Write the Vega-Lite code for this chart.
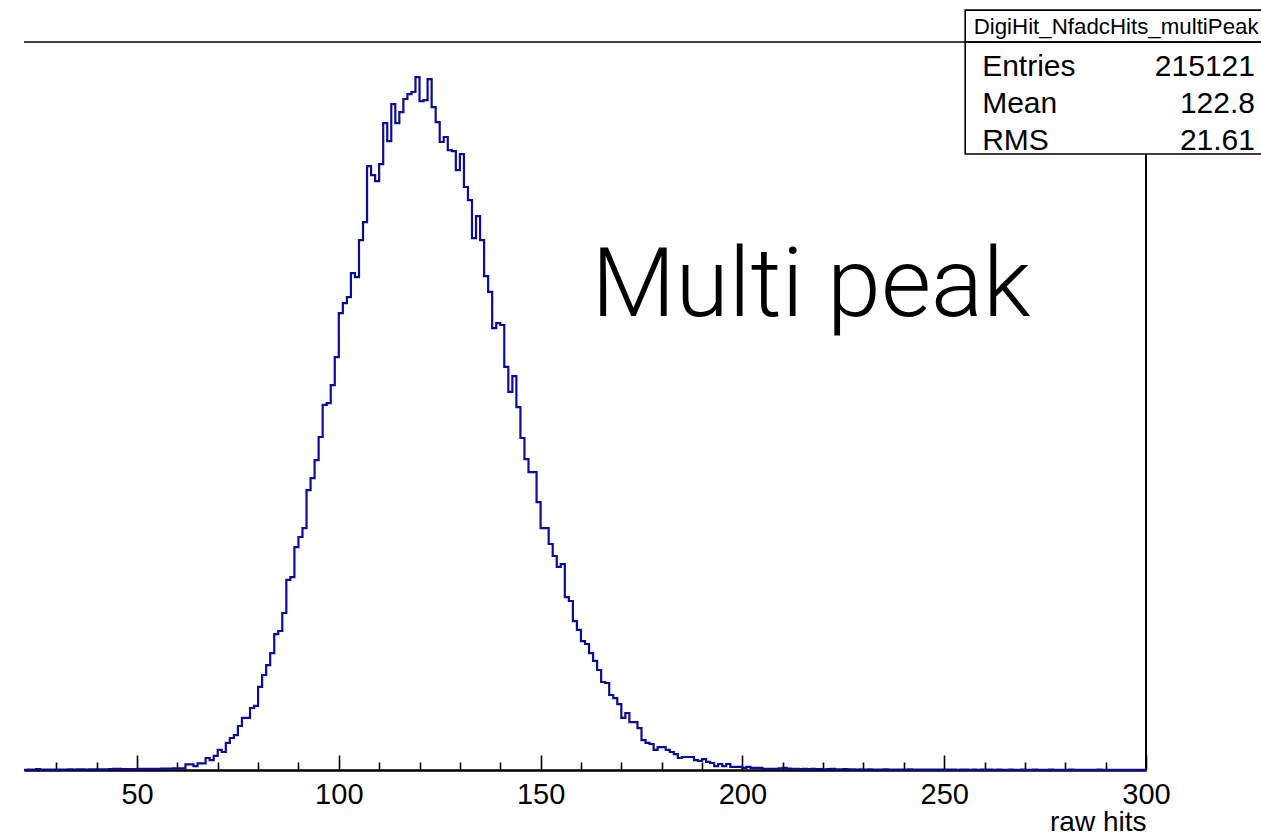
{
  "$schema": "https://vega.github.io/schema/vega-lite/v6.json",
  "width": 1122,
  "height": 728,
  "autosize": {"type": "none"},
  "padding": {"left": 24, "top": 42, "right": 115, "bottom": 65},
  "background": "white",
  "config": {
    "view": {"stroke": null},
    "axis": {"domainColor": "black", "domainWidth": 2, "tickColor": "black", "tickWidth": 1.6, "labelColor": "black", "titleColor": "black", "labelFont": "Liberation Sans", "titleFont": "Liberation Sans", "grid": false}
  },
  "datasets": {
    "one": [{}],
    "hist": [
      {"bin":22,"count":1},{"bin":23,"count":2},{"bin":24,"count":3},{"bin":25,"count":5},{"bin":26,"count":3},{"bin":27,"count":2},{"bin":28,"count":2},{"bin":29,"count":3},{"bin":30,"count":3},{"bin":31,"count":2},
      {"bin":32,"count":3},{"bin":33,"count":4},{"bin":34,"count":3},{"bin":35,"count":4},{"bin":36,"count":4},{"bin":37,"count":3},{"bin":38,"count":4},{"bin":39,"count":4},{"bin":40,"count":4},{"bin":41,"count":4},
      {"bin":42,"count":4},{"bin":43,"count":5},{"bin":44,"count":6},{"bin":45,"count":6},{"bin":46,"count":5},{"bin":47,"count":5},{"bin":48,"count":5},{"bin":49,"count":5},{"bin":50,"count":6},{"bin":51,"count":6},
      {"bin":52,"count":6},{"bin":53,"count":6},{"bin":54,"count":7},{"bin":55,"count":7},{"bin":56,"count":8},{"bin":57,"count":8},{"bin":58,"count":8},{"bin":59,"count":9},{"bin":60,"count":9},{"bin":61,"count":10},
      {"bin":62,"count":33},{"bin":63,"count":33},{"bin":64,"count":23},{"bin":65,"count":39},{"bin":66,"count":39},{"bin":67,"count":70},{"bin":68,"count":58},{"bin":69,"count":82},{"bin":70,"count":117},{"bin":71,"count":105},
      {"bin":72,"count":158},{"bin":73,"count":187},{"bin":74,"count":204},{"bin":75,"count":257},{"bin":76,"count":304},{"bin":77,"count":304},{"bin":78,"count":362},{"bin":79,"count":374},{"bin":80,"count":485},{"bin":81,"count":555},
      {"bin":82,"count":613},{"bin":83,"count":683},{"bin":84,"count":794},{"bin":85,"count":812},{"bin":86,"count":917},{"bin":87,"count":1110},{"bin":88,"count":1127},{"bin":89,"count":1302},{"bin":90,"count":1361},{"bin":91,"count":1413},
      {"bin":92,"count":1635},{"bin":93,"count":1705},{"bin":94,"count":1810},{"bin":95,"count":1945},{"bin":96,"count":2132},{"bin":97,"count":2143},{"bin":98,"count":2248},{"bin":99,"count":2412},{"bin":100,"count":2669},{"bin":101,"count":2727},
      {"bin":102,"count":2762},{"bin":103,"count":2902},{"bin":104,"count":2879},{"bin":105,"count":3095},{"bin":106,"count":3200},{"bin":107,"count":3527},{"bin":108,"count":3475},{"bin":109,"count":3440},{"bin":110,"count":3539},{"bin":111,"count":3778},
      {"bin":112,"count":3673},{"bin":113,"count":3889},{"bin":114,"count":3778},{"bin":115,"count":3843},{"bin":116,"count":3919},{"bin":117,"count":3948},{"bin":118,"count":3960},{"bin":119,"count":4047},{"bin":120,"count":3907},{"bin":121,"count":3913},
      {"bin":122,"count":4035},{"bin":123,"count":3872},{"bin":124,"count":3784},{"bin":125,"count":3668},{"bin":126,"count":3697},{"bin":127,"count":3621},{"bin":128,"count":3615},{"bin":129,"count":3504},{"bin":130,"count":3597},{"bin":131,"count":3405},
      {"bin":132,"count":3329},{"bin":133,"count":3107},{"bin":134,"count":3235},{"bin":135,"count":3095},{"bin":136,"count":2885},{"bin":137,"count":2792},{"bin":138,"count":2581},{"bin":139,"count":2610},{"bin":140,"count":2599},{"bin":141,"count":2354},
      {"bin":142,"count":2208},{"bin":143,"count":2301},{"bin":144,"count":2120},{"bin":145,"count":1939},{"bin":146,"count":1816},{"bin":147,"count":1740},{"bin":148,"count":1740},{"bin":149,"count":1565},{"bin":150,"count":1413},{"bin":151,"count":1413},
      {"bin":152,"count":1320},{"bin":153,"count":1250},{"bin":154,"count":1186},{"bin":155,"count":1203},{"bin":156,"count":1010},{"bin":157,"count":987},{"bin":158,"count":870},{"bin":159,"count":818},{"bin":160,"count":753},{"bin":161,"count":736},
      {"bin":162,"count":683},{"bin":163,"count":637},{"bin":164,"count":584},{"bin":165,"count":514},{"bin":166,"count":508},{"bin":167,"count":438},{"bin":168,"count":420},{"bin":169,"count":385},{"bin":170,"count":304},{"bin":171,"count":333},
      {"bin":172,"count":280},{"bin":173,"count":280},{"bin":174,"count":245},{"bin":175,"count":175},{"bin":176,"count":158},{"bin":177,"count":152},{"bin":178,"count":117},{"bin":179,"count":134},{"bin":180,"count":134},{"bin":181,"count":117},
      {"bin":182,"count":105},{"bin":183,"count":93},{"bin":184,"count":70},{"bin":185,"count":76},{"bin":186,"count":76},{"bin":187,"count":76},{"bin":188,"count":58},{"bin":189,"count":53},{"bin":190,"count":64},{"bin":191,"count":47},
      {"bin":192,"count":41},{"bin":193,"count":23},{"bin":194,"count":35},{"bin":195,"count":23},{"bin":196,"count":35},{"bin":197,"count":18},{"bin":198,"count":18},{"bin":199,"count":18},{"bin":200,"count":12},{"bin":201,"count":18},
      {"bin":202,"count":12},{"bin":203,"count":12},{"bin":204,"count":12},{"bin":205,"count":7},{"bin":206,"count":6},{"bin":207,"count":6},{"bin":208,"count":7},{"bin":209,"count":9},{"bin":210,"count":12},{"bin":211,"count":8},
      {"bin":212,"count":6},{"bin":213,"count":7},{"bin":214,"count":5},{"bin":215,"count":6},{"bin":216,"count":5},{"bin":217,"count":7},{"bin":218,"count":5},{"bin":219,"count":5},{"bin":220,"count":4},{"bin":221,"count":5},
      {"bin":222,"count":6},{"bin":223,"count":4},{"bin":224,"count":4},{"bin":225,"count":5},{"bin":226,"count":4},{"bin":227,"count":4},{"bin":228,"count":3},{"bin":229,"count":4},{"bin":230,"count":3},{"bin":231,"count":4},
      {"bin":232,"count":3},{"bin":233,"count":3},{"bin":234,"count":2},{"bin":235,"count":4},{"bin":236,"count":2},{"bin":237,"count":3},{"bin":238,"count":2},{"bin":239,"count":2},{"bin":240,"count":3},{"bin":241,"count":4},
      {"bin":242,"count":2},{"bin":243,"count":2},{"bin":244,"count":2},{"bin":245,"count":2},{"bin":246,"count":2},{"bin":247,"count":2},{"bin":248,"count":2},{"bin":249,"count":2},{"bin":250,"count":2},{"bin":251,"count":2},
      {"bin":252,"count":2},{"bin":253,"count":1},{"bin":254,"count":2},{"bin":255,"count":2},{"bin":256,"count":1},{"bin":257,"count":2},{"bin":258,"count":1},{"bin":259,"count":2},{"bin":260,"count":3},{"bin":261,"count":2},
      {"bin":262,"count":1},{"bin":263,"count":2},{"bin":264,"count":1},{"bin":265,"count":1},{"bin":266,"count":2},{"bin":267,"count":1},{"bin":268,"count":1},{"bin":269,"count":2},{"bin":270,"count":1},{"bin":271,"count":1},
      {"bin":272,"count":2},{"bin":273,"count":1},{"bin":274,"count":1},{"bin":275,"count":1},{"bin":276,"count":2},{"bin":277,"count":1},{"bin":278,"count":1},{"bin":279,"count":1},{"bin":280,"count":1},{"bin":281,"count":2},
      {"bin":282,"count":1},{"bin":283,"count":1},{"bin":284,"count":1},{"bin":285,"count":1},{"bin":286,"count":1},{"bin":287,"count":1},{"bin":288,"count":2},{"bin":289,"count":1},{"bin":290,"count":1},{"bin":291,"count":1},
      {"bin":292,"count":1},{"bin":293,"count":1},{"bin":294,"count":1},{"bin":295,"count":1},{"bin":296,"count":1},{"bin":297,"count":1},{"bin":298,"count":1},{"bin":299,"count":1},{"bin":300,"count":1}
    ]
  },
  "resolve": {"axis": {"x": "independent"}},
  "layer": [
    {
      "data": {"name": "one"},
      "mark": {"type": "rule", "color": "black", "strokeWidth": 2},
      "encoding": {
        "x": {"datum": 300, "type": "quantitative", "scale": {"domain": [22, 300], "nice": false, "zero": false},
              "axis": {"orient": "bottom", "values": [30,40,60,70,80,90,110,120,130,140,160,170,180,190,210,220,230,240,260,270,280,290], "tickSize": -8, "labels": false, "domain": true, "title": null}},
        "y": {"datum": 0, "type": "quantitative", "scale": {"domain": [0, 4252], "nice": false, "zero": true}, "axis": null},
        "y2": {"datum": 4252}
      }
    },
    {
      "data": {"name": "hist"},
      "mark": {"type": "line", "interpolate": "step-after", "color": "#0c0c9c", "strokeWidth": 2.2},
      "encoding": {
        "x": {"field": "bin", "type": "quantitative",
              "axis": {"orient": "bottom", "values": [50,100,150,200,250,300], "tickSize": -15, "labelPadding": 25, "labelFontSize": 29, "labelFlush": false, "labelOverlap": false,
                       "title": "raw hits", "titleFontSize": 28, "titleFontWeight": "normal", "titleX": 1122, "titleY": 60, "titleAlign": "right", "titleAnchor": "end", "titleBaseline": "alphabetic"}},
        "y": {"field": "count", "type": "quantitative", "axis": null}
      }
    },
    {
      "data": {"name": "one"},
      "mark": {"type": "rect", "fill": "white", "stroke": "black", "strokeWidth": 1.6},
      "encoding": {
        "x": {"datum": 255.2, "type": "quantitative", "axis": null},
        "x2": {"datum": 340},
        "y": {"datum": 3598, "type": "quantitative", "axis": null},
        "y2": {"datum": 4252}
      }
    },
    {
      "data": {"name": "one"},
      "mark": {"type": "rect", "fill": "white", "stroke": "black", "strokeWidth": 1.6},
      "encoding": {
        "x": {"datum": 255.2, "type": "quantitative", "axis": null},
        "x2": {"datum": 340},
        "y": {"datum": 4252, "type": "quantitative", "axis": null},
        "y2": {"datum": 4438}
      }
    },
    {
      "data": {"name": "one"},
      "mark": {"type": "rule", "color": "black", "strokeWidth": 1.6},
      "encoding": {
        "x": {"datum": 22, "type": "quantitative", "axis": null},
        "x2": {"datum": 340},
        "y": {"datum": 4252, "type": "quantitative", "axis": null}
      }
    },
    {
      "data": {"name": "one"},
      "mark": {"type": "text", "font": "Liberation Sans", "fontSize": 22.3, "align": "center", "baseline": "middle", "color": "black"},
      "encoding": {
        "x": {"datum": 292.6, "type": "quantitative", "axis": null},
        "y": {"datum": 4339, "type": "quantitative", "axis": null},
        "text": {"value": "DigiHit_NfadcHits_multiPeak"}
      }
    },
    {
      "data": {"name": "one"},
      "mark": {"type": "text", "font": "Liberation Sans", "fontSize": 30, "align": "left", "baseline": "middle", "color": "black"},
      "encoding": {"x": {"datum": 259.4, "type": "quantitative", "axis": null}, "y": {"datum": 4105, "type": "quantitative", "axis": null}, "text": {"value": "Entries"}}
    },
    {
      "data": {"name": "one"},
      "mark": {"type": "text", "font": "Liberation Sans", "fontSize": 30, "align": "left", "baseline": "middle", "color": "black"},
      "encoding": {"x": {"datum": 259.4, "type": "quantitative", "axis": null}, "y": {"datum": 3889, "type": "quantitative", "axis": null}, "text": {"value": "Mean"}}
    },
    {
      "data": {"name": "one"},
      "mark": {"type": "text", "font": "Liberation Sans", "fontSize": 30, "align": "left", "baseline": "middle", "color": "black"},
      "encoding": {"x": {"datum": 259.4, "type": "quantitative", "axis": null}, "y": {"datum": 3673, "type": "quantitative", "axis": null}, "text": {"value": "RMS"}}
    },
    {
      "data": {"name": "one"},
      "mark": {"type": "text", "font": "Liberation Sans", "fontSize": 30, "align": "right", "baseline": "middle", "color": "black"},
      "encoding": {"x": {"datum": 327.0, "type": "quantitative", "axis": null}, "y": {"datum": 4105, "type": "quantitative", "axis": null}, "text": {"value": "215121"}}
    },
    {
      "data": {"name": "one"},
      "mark": {"type": "text", "font": "Liberation Sans", "fontSize": 30, "align": "right", "baseline": "middle", "color": "black"},
      "encoding": {"x": {"datum": 327.0, "type": "quantitative", "axis": null}, "y": {"datum": 3889, "type": "quantitative", "axis": null}, "text": {"value": "122.8"}}
    },
    {
      "data": {"name": "one"},
      "mark": {"type": "text", "font": "Liberation Sans", "fontSize": 30, "align": "right", "baseline": "middle", "color": "black"},
      "encoding": {"x": {"datum": 327.0, "type": "quantitative", "axis": null}, "y": {"datum": 3673, "type": "quantitative", "axis": null}, "text": {"value": "21.61"}}
    },
    {
      "data": {"name": "one"},
      "mark": {"type": "text", "font": "Roboto", "fontWeight": 300, "fontSize": 97, "align": "left", "baseline": "alphabetic", "color": "black"},
      "encoding": {"x": {"datum": 162.6, "type": "quantitative", "axis": null}, "y": {"datum": 2651, "type": "quantitative", "axis": null}, "text": {"value": "Multi peak"}}
    }
  ]
}
